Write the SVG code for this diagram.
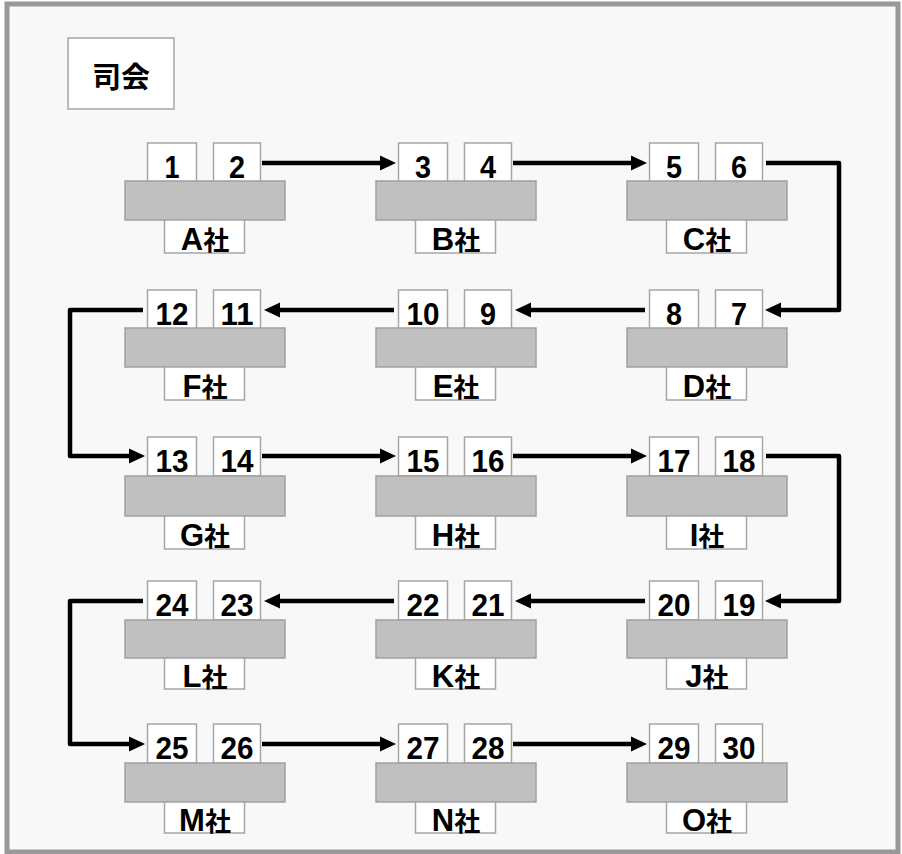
<svg xmlns="http://www.w3.org/2000/svg" width="902" height="854" viewBox="0 0 902 854">
<style>
.seat{fill:#ffffff;stroke:#a6a6a6;stroke-width:1.5}
.table{fill:#c0c0c0;stroke:#a0a0a0;stroke-width:1.5}
.lbl{fill:#ffffff;stroke:#a6a6a6;stroke-width:1.5}
.num{font-family:"Liberation Sans","Noto Sans CJK JP",sans-serif;font-weight:bold;font-size:32px;text-anchor:middle;fill:#000}
.co{font-family:"Liberation Sans","Noto Sans CJK JP",sans-serif;font-weight:bold;font-size:26px;text-anchor:middle;fill:#000}
.co tspan{font-size:31px}
.conn{fill:none;stroke:#000;stroke-width:4.5;stroke-linejoin:round}
</style>
<defs>
<marker id="ah" markerUnits="userSpaceOnUse" markerWidth="16" markerHeight="16" viewBox="0 0 16 16" refX="6" refY="8" orient="auto">
<path d="M0,0.5 L16,8 L0,15.5 z" fill="#000"/>
</marker>
</defs>
<rect x="7" y="4" width="891" height="848" fill="#f8f8f8" stroke="#999999" stroke-width="5"/>
<g id="shikai">
<rect x="68" y="38" width="106" height="71" fill="#ffffff" stroke="#a6a6a6" stroke-width="1.5"/>
<text x="121" y="88" font-family="'Noto Sans CJK JP',sans-serif" font-weight="bold" font-size="29" text-anchor="middle">司会</text>
</g>
<g id="A"><rect class="seat" x="147.5" y="143" width="49" height="39"/><rect class="seat" x="213.5" y="143" width="47" height="39"/><rect class="table" x="125" y="181" width="160" height="39"/><rect class="lbl" x="164.5" y="220" width="80" height="33"/><text class="num" x="172" y="178" textLength="15" lengthAdjust="spacingAndGlyphs">1</text><text class="num" x="237" y="178" textLength="16" lengthAdjust="spacingAndGlyphs">2</text><text class="co" x="205" y="250"><tspan>A</tspan>社</text></g>
<g id="B"><rect class="seat" x="398.5" y="143" width="49" height="39"/><rect class="seat" x="464.5" y="143" width="47" height="39"/><rect class="table" x="376" y="181" width="160" height="39"/><rect class="lbl" x="415.5" y="220" width="80" height="33"/><text class="num" x="423" y="178" textLength="16" lengthAdjust="spacingAndGlyphs">3</text><text class="num" x="488" y="178" textLength="16" lengthAdjust="spacingAndGlyphs">4</text><text class="co" x="456" y="250"><tspan>B</tspan>社</text></g>
<g id="C"><rect class="seat" x="649.5" y="143" width="49" height="39"/><rect class="seat" x="715.5" y="143" width="47" height="39"/><rect class="table" x="627" y="181" width="160" height="39"/><rect class="lbl" x="666.5" y="220" width="80" height="33"/><text class="num" x="674" y="178" textLength="16" lengthAdjust="spacingAndGlyphs">5</text><text class="num" x="739" y="178" textLength="16" lengthAdjust="spacingAndGlyphs">6</text><text class="co" x="707" y="250"><tspan>C</tspan>社</text></g>
<g id="F"><rect class="seat" x="147.5" y="290" width="49" height="39"/><rect class="seat" x="213.5" y="290" width="47" height="39"/><rect class="table" x="125" y="328" width="160" height="39"/><rect class="lbl" x="164.5" y="367" width="80" height="33"/><text class="num" x="172" y="325" textLength="33" lengthAdjust="spacingAndGlyphs">12</text><text class="num" x="237" y="325" textLength="33" lengthAdjust="spacingAndGlyphs">11</text><text class="co" x="205" y="397"><tspan>F</tspan>社</text></g>
<g id="E"><rect class="seat" x="398.5" y="290" width="49" height="39"/><rect class="seat" x="464.5" y="290" width="47" height="39"/><rect class="table" x="376" y="328" width="160" height="39"/><rect class="lbl" x="415.5" y="367" width="80" height="33"/><text class="num" x="423" y="325" textLength="33" lengthAdjust="spacingAndGlyphs">10</text><text class="num" x="488" y="325" textLength="16" lengthAdjust="spacingAndGlyphs">9</text><text class="co" x="456" y="397"><tspan>E</tspan>社</text></g>
<g id="D"><rect class="seat" x="649.5" y="290" width="49" height="39"/><rect class="seat" x="715.5" y="290" width="47" height="39"/><rect class="table" x="627" y="328" width="160" height="39"/><rect class="lbl" x="666.5" y="367" width="80" height="33"/><text class="num" x="674" y="325" textLength="16" lengthAdjust="spacingAndGlyphs">8</text><text class="num" x="739" y="325" textLength="16" lengthAdjust="spacingAndGlyphs">7</text><text class="co" x="707" y="397"><tspan>D</tspan>社</text></g>
<g id="G"><rect class="seat" x="147.5" y="437" width="49" height="39"/><rect class="seat" x="213.5" y="437" width="47" height="39"/><rect class="table" x="125" y="476" width="160" height="40"/><rect class="lbl" x="164.5" y="516" width="80" height="33"/><text class="num" x="172" y="472" textLength="33" lengthAdjust="spacingAndGlyphs">13</text><text class="num" x="237" y="472" textLength="33" lengthAdjust="spacingAndGlyphs">14</text><text class="co" x="205" y="546"><tspan>G</tspan>社</text></g>
<g id="H"><rect class="seat" x="398.5" y="437" width="49" height="39"/><rect class="seat" x="464.5" y="437" width="47" height="39"/><rect class="table" x="376" y="476" width="160" height="40"/><rect class="lbl" x="415.5" y="516" width="80" height="33"/><text class="num" x="423" y="472" textLength="33" lengthAdjust="spacingAndGlyphs">15</text><text class="num" x="488" y="472" textLength="33" lengthAdjust="spacingAndGlyphs">16</text><text class="co" x="456" y="546"><tspan>H</tspan>社</text></g>
<g id="I"><rect class="seat" x="649.5" y="437" width="49" height="39"/><rect class="seat" x="715.5" y="437" width="47" height="39"/><rect class="table" x="627" y="476" width="160" height="40"/><rect class="lbl" x="666.5" y="516" width="80" height="33"/><text class="num" x="674" y="472" textLength="33" lengthAdjust="spacingAndGlyphs">17</text><text class="num" x="739" y="472" textLength="33" lengthAdjust="spacingAndGlyphs">18</text><text class="co" x="707" y="546"><tspan>I</tspan>社</text></g>
<g id="L"><rect class="seat" x="147.5" y="581" width="49" height="39"/><rect class="seat" x="213.5" y="581" width="47" height="39"/><rect class="table" x="125" y="620" width="160" height="38"/><rect class="lbl" x="164.5" y="658" width="80" height="31"/><text class="num" x="172" y="616" textLength="33" lengthAdjust="spacingAndGlyphs">24</text><text class="num" x="237" y="616" textLength="33" lengthAdjust="spacingAndGlyphs">23</text><text class="co" x="205" y="687"><tspan>L</tspan>社</text></g>
<g id="K"><rect class="seat" x="398.5" y="581" width="49" height="39"/><rect class="seat" x="464.5" y="581" width="47" height="39"/><rect class="table" x="376" y="620" width="160" height="38"/><rect class="lbl" x="415.5" y="658" width="80" height="31"/><text class="num" x="423" y="616" textLength="33" lengthAdjust="spacingAndGlyphs">22</text><text class="num" x="488" y="616" textLength="33" lengthAdjust="spacingAndGlyphs">21</text><text class="co" x="456" y="687"><tspan>K</tspan>社</text></g>
<g id="J"><rect class="seat" x="649.5" y="581" width="49" height="39"/><rect class="seat" x="715.5" y="581" width="47" height="39"/><rect class="table" x="627" y="620" width="160" height="38"/><rect class="lbl" x="666.5" y="658" width="80" height="31"/><text class="num" x="674" y="616" textLength="33" lengthAdjust="spacingAndGlyphs">20</text><text class="num" x="739" y="616" textLength="33" lengthAdjust="spacingAndGlyphs">19</text><text class="co" x="707" y="687"><tspan>J</tspan>社</text></g>
<g id="M"><rect class="seat" x="147.5" y="724" width="49" height="39"/><rect class="seat" x="213.5" y="724" width="47" height="39"/><rect class="table" x="125" y="763" width="160" height="39"/><rect class="lbl" x="164.5" y="802" width="80" height="31"/><text class="num" x="172" y="759" textLength="33" lengthAdjust="spacingAndGlyphs">25</text><text class="num" x="237" y="759" textLength="33" lengthAdjust="spacingAndGlyphs">26</text><text class="co" x="205" y="831"><tspan>M</tspan>社</text></g>
<g id="N"><rect class="seat" x="398.5" y="724" width="49" height="39"/><rect class="seat" x="464.5" y="724" width="47" height="39"/><rect class="table" x="376" y="763" width="160" height="39"/><rect class="lbl" x="415.5" y="802" width="80" height="31"/><text class="num" x="423" y="759" textLength="33" lengthAdjust="spacingAndGlyphs">27</text><text class="num" x="488" y="759" textLength="33" lengthAdjust="spacingAndGlyphs">28</text><text class="co" x="456" y="831"><tspan>N</tspan>社</text></g>
<g id="O"><rect class="seat" x="649.5" y="724" width="49" height="39"/><rect class="seat" x="715.5" y="724" width="47" height="39"/><rect class="table" x="627" y="763" width="160" height="39"/><rect class="lbl" x="666.5" y="802" width="80" height="31"/><text class="num" x="674" y="759" textLength="33" lengthAdjust="spacingAndGlyphs">29</text><text class="num" x="739" y="759" textLength="33" lengthAdjust="spacingAndGlyphs">30</text><text class="co" x="707" y="831"><tspan>O</tspan>社</text></g>
<g id="connectors">
<path class="conn" marker-end="url(#ah)" d="M262,163 H386"/>
<path class="conn" marker-end="url(#ah)" d="M513,163 H637"/>
<path class="conn" marker-end="url(#ah)" d="M766,163 H839 V310 H775"/>
<path class="conn" marker-end="url(#ah)" d="M645,310 H525"/>
<path class="conn" marker-end="url(#ah)" d="M394,310 H274"/>
<path class="conn" marker-end="url(#ah)" d="M143,310 H70 V456 H135"/>
<path class="conn" marker-end="url(#ah)" d="M262,456 H386"/>
<path class="conn" marker-end="url(#ah)" d="M513,456 H637"/>
<path class="conn" marker-end="url(#ah)" d="M766,456 H839 V601 H775"/>
<path class="conn" marker-end="url(#ah)" d="M645,601 H525"/>
<path class="conn" marker-end="url(#ah)" d="M394,601 H274"/>
<path class="conn" marker-end="url(#ah)" d="M143,601 H70 V744 H135"/>
<path class="conn" marker-end="url(#ah)" d="M262,744 H386"/>
<path class="conn" marker-end="url(#ah)" d="M513,744 H637"/>
</g>
</svg>
